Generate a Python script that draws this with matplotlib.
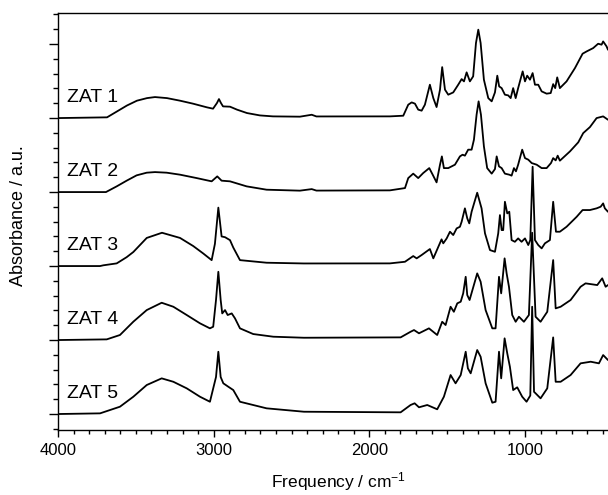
import numpy as np
import matplotlib.pyplot as plt
from matplotlib.ticker import MultipleLocator

plt.rcParams.update({
    'font.family': ['Liberation Sans', 'DejaVu Sans'],
    'mathtext.fontset': 'custom',
    'mathtext.rm': 'Liberation Sans',
    'mathtext.it': 'Liberation Sans',
    'font.size': 12,
})

# IR spectra: (wavenumber cm^-1, absorbance above own baseline)
zat1 = [(4000, 0.0), (3685, 0.01), (3621, 0.09), (3557, 0.17), (3493, 0.235), (3428, 0.27),
        (3377, 0.284), (3300, 0.27), (3216, 0.235), (3133, 0.195), (3043, 0.145), (3004, 0.127),
        (2979, 0.203), (2966, 0.257), (2953, 0.203), (2940, 0.158), (2895, 0.154), (2850, 0.114),
        (2786, 0.068), (2703, 0.036), (2619, 0.023), (2446, 0.019), (2370, 0.045), (2340, 0.022),
        (1868, 0.023), (1782, 0.032), (1750, 0.181), (1728, 0.212), (1707, 0.195), (1686, 0.114),
        (1664, 0.100), (1643, 0.181), (1611, 0.451), (1589, 0.270), (1568, 0.149), (1546, 0.384),
        (1532, 0.689), (1514, 0.384), (1493, 0.316), (1461, 0.347), (1429, 0.451), (1407, 0.527),
        (1392, 0.496), (1375, 0.618), (1354, 0.496), (1333, 0.564), (1315, 1.014), (1300, 1.195),
        (1285, 1.014), (1264, 0.519), (1236, 0.270), (1214, 0.226), (1193, 0.347), (1178, 0.573),
        (1166, 0.428), (1150, 0.405), (1129, 0.316), (1108, 0.307), (1092, 0.270), (1076, 0.405),
        (1060, 0.270), (1044, 0.405), (1015, 0.631), (1000, 0.496), (986, 0.573), (968, 0.519),
        (951, 0.608), (936, 0.451), (915, 0.451), (893, 0.361), (861, 0.330), (835, 0.338),
        (819, 0.459), (806, 0.405), (793, 0.550), (776, 0.405), (733, 0.496), (679, 0.676),
        (630, 0.870), (604, 0.901), (562, 0.946), (530, 1.005), (508, 0.992), (498, 1.036),
        (476, 0.969), (467, 0.924), (400, 0.88)]

zat2 = [(4000, 0.0), (3692, 0.0), (3623, 0.077), (3559, 0.154), (3495, 0.226), (3430, 0.262),
        (3377, 0.270), (3302, 0.262), (3216, 0.235), (3109, 0.189), (3013, 0.145), (2977, 0.212),
        (2949, 0.154), (2895, 0.145), (2788, 0.077), (2660, 0.032), (2446, 0.019), (2370, 0.04),
        (2340, 0.02), (1868, 0.023), (1771, 0.054), (1750, 0.189), (1718, 0.249), (1686, 0.189),
        (1654, 0.257), (1615, 0.324), (1593, 0.235), (1568, 0.131), (1546, 0.370), (1534, 0.482),
        (1521, 0.324), (1493, 0.324), (1450, 0.370), (1418, 0.482), (1401, 0.505), (1386, 0.492),
        (1365, 0.573), (1343, 0.573), (1328, 0.708), (1311, 1.046), (1298, 1.226), (1283, 1.046),
        (1264, 0.618), (1243, 0.324), (1214, 0.249), (1193, 0.311), (1182, 0.482), (1167, 0.347),
        (1150, 0.324), (1129, 0.249), (1101, 0.235), (1086, 0.222), (1071, 0.324), (1058, 0.280),
        (1044, 0.370), (1018, 0.573), (1000, 0.459), (979, 0.438), (957, 0.392), (925, 0.370),
        (893, 0.324), (861, 0.324), (833, 0.392), (819, 0.459), (803, 0.428), (790, 0.492),
        (776, 0.424), (711, 0.550), (658, 0.672), (626, 0.797), (583, 0.878), (540, 1.000),
        (498, 1.023), (467, 0.978), (400, 0.95)]

zat3 = [(4000, 0.0), (3730, 0.0), (3709, 0.01), (3623, 0.036), (3559, 0.12), (3516, 0.19),
        (3430, 0.38), (3332, 0.45), (3216, 0.38), (3131, 0.27), (3067, 0.17), (3013, 0.08),
        (2992, 0.3), (2970, 0.79), (2949, 0.40), (2927, 0.39), (2895, 0.35), (2874, 0.25),
        (2831, 0.08), (2660, 0.045), (2420, 0.035), (1868, 0.036), (1771, 0.058), (1718, 0.135),
        (1696, 0.104), (1664, 0.149), (1611, 0.230), (1589, 0.104), (1536, 0.361), (1525, 0.307),
        (1503, 0.374), (1482, 0.464), (1461, 0.419), (1439, 0.509), (1418, 0.531), (1407, 0.599),
        (1386, 0.780), (1371, 0.645), (1358, 0.577), (1343, 0.734), (1307, 0.991), (1279, 0.780),
        (1257, 0.442), (1225, 0.216), (1193, 0.193), (1172, 0.442), (1161, 0.689), (1150, 0.486),
        (1140, 0.486), (1129, 0.869), (1114, 0.712), (1101, 0.734), (1086, 0.351), (1065, 0.328),
        (1044, 0.374), (1022, 0.328), (1000, 0.374), (979, 0.284), (966, 0.351), (951, 1.342),
        (936, 0.351), (915, 0.284), (893, 0.239), (872, 0.307), (840, 0.351), (819, 0.869),
        (801, 0.464), (776, 0.464), (733, 0.531), (668, 0.666), (630, 0.757), (583, 0.757),
        (540, 0.780), (514, 0.802), (498, 0.847), (487, 0.780), (467, 0.734), (400, 0.72)]

zat4 = [(4000, 0.0), (3687, 0.009), (3602, 0.068), (3516, 0.248), (3430, 0.405), (3334, 0.504),
        (3259, 0.450), (3173, 0.338), (3088, 0.226), (3024, 0.158), (3003, 0.180), (2985, 0.541),
        (2970, 0.923), (2955, 0.541), (2945, 0.360), (2927, 0.405), (2910, 0.338), (2884, 0.360),
        (2863, 0.293), (2831, 0.158), (2746, 0.081), (2617, 0.045), (2420, 0.031), (1799, 0.036),
        (1735, 0.112), (1713, 0.135), (1681, 0.091), (1617, 0.158), (1564, 0.068), (1532, 0.247),
        (1510, 0.203), (1478, 0.450), (1457, 0.382), (1435, 0.496), (1413, 0.518), (1397, 0.631),
        (1381, 0.855), (1371, 0.608), (1356, 0.541), (1307, 0.901), (1285, 0.788), (1253, 0.405),
        (1210, 0.158), (1189, 0.158), (1167, 0.855), (1153, 0.631), (1131, 1.104), (1118, 0.901),
        (1103, 0.720), (1082, 0.338), (1060, 0.247), (1039, 0.315), (1007, 0.247), (975, 0.338),
        (954, 1.45), (932, 0.315), (900, 0.247), (857, 0.382), (819, 1.081), (803, 0.428),
        (771, 0.450), (707, 0.541), (643, 0.720), (611, 0.766), (536, 0.743), (504, 0.834),
        (482, 0.720), (467, 0.743), (400, 0.73)]

zat5 = [(4000, 0.0), (3730, 0.009), (3602, 0.099), (3516, 0.234), (3430, 0.392), (3334, 0.482),
        (3259, 0.436), (3173, 0.347), (3088, 0.234), (3024, 0.166), (2985, 0.5), (2970, 0.842),
        (2955, 0.5), (2938, 0.415), (2906, 0.369), (2874, 0.324), (2831, 0.166), (2660, 0.077),
        (2420, 0.031), (1799, 0.023), (1735, 0.122), (1709, 0.145), (1681, 0.091), (1628, 0.122),
        (1564, 0.064), (1521, 0.234), (1478, 0.527), (1446, 0.415), (1413, 0.527), (1381, 0.842),
        (1367, 0.618), (1349, 0.550), (1307, 0.865), (1285, 0.774), (1253, 0.415), (1210, 0.153),
        (1189, 0.166), (1167, 0.842), (1153, 0.482), (1131, 1.023), (1114, 0.820), (1097, 0.639),
        (1076, 0.324), (1050, 0.361), (1018, 0.234), (990, 0.166), (966, 0.25), (954, 1.45),
        (942, 0.30), (932, 0.280), (900, 0.212), (857, 0.347), (819, 1.036), (803, 0.436),
        (771, 0.436), (707, 0.527), (643, 0.685), (578, 0.707), (525, 0.685), (498, 0.797),
        (467, 0.730), (400, 0.72)]

spectra = [zat1, zat2, zat3, zat4, zat5]
names = ['ZAT 1', 'ZAT 2', 'ZAT 3', 'ZAT 4', 'ZAT 5']
offsets = [4, 3, 2, 1, 0]

fig = plt.figure(figsize=(6.08, 4.95), dpi=100)
ax = fig.add_axes([0.0954, 0.1313, 0.9217, 0.8424])

for spec, name, off in zip(spectra, names, offsets):
    wn, ab = np.array(spec).T
    ax.plot(wn, ab + off, color='black', linewidth=1.3)
    ax.text(3942, off + 0.22, name, ha='left', va='baseline', fontsize=14)

ax.set_xlim(4000, 400)
ax.set_ylim(-0.216, 5.42)
ax.xaxis.set_major_locator(MultipleLocator(1000))
ax.xaxis.set_minor_locator(MultipleLocator(100))
ax.yaxis.set_major_locator(MultipleLocator(1))
ax.yaxis.set_minor_locator(MultipleLocator(0.2))
ax.tick_params(axis='x', which='major', direction='out', length=5, width=1, pad=4, labelsize=12)
ax.tick_params(axis='x', which='minor', direction='out', length=3, width=1)
ax.tick_params(axis='y', which='major', direction='out', length=6.5, width=1)
ax.tick_params(axis='y', which='minor', direction='out', length=3.5, width=1)
ax.tick_params(axis='y', which='both', labelleft=False)
for s in ax.spines.values():
    s.set_linewidth(1)
ax.spines['right'].set_visible(False)

ax.set_xlabel('Frequency / cm$^{-1}$', fontsize=12.5)
ax.xaxis.set_label_coords(0.5, -0.095)
ax.set_ylabel('Absorbance / a.u.', fontsize=13)
ax.yaxis.set_label_coords(-0.055, 0.515)

fig.savefig('out.png', dpi=100, facecolor='white')
